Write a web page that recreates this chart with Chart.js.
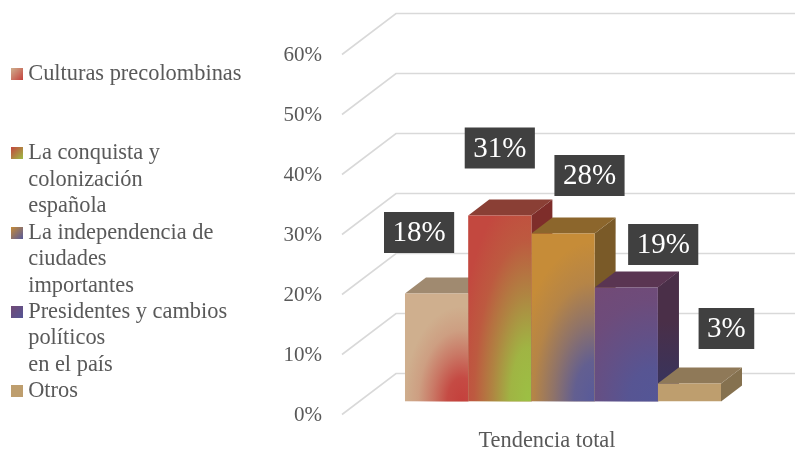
<!DOCTYPE html>
<html>
<head>
<meta charset="utf-8">
<title>Tendencia total</title>
<script src="https://cdn.jsdelivr.net/npm/chart.js@4"></script>
<style>
  html, body { margin: 0; background: #fff; }
  canvas { display: block; }
</style>
</head>
<body>
<canvas id="chart" width="795" height="452"></canvas>
<script>
const categories = ['Tendencia total'];
const seriesNames = [
  ['Culturas precolombinas', '', ''],
  ['La conquista y', 'colonización', 'española'],
  ['La independencia de', 'ciudades', 'importantes'],
  ['Presidentes y cambios', 'políticos', 'en el país'],
  ['Otros']
];
const seriesValues = [18, 31, 28, 19, 3];
const yTicks = [0, 10, 20, 30, 40, 50, 60];

// colores de cada barra
const frontColors = ['#CFAF8E', '#C3483F', '#C68C38', '#724A76', '#BE9E6E'];
const topColors   = ['#A08A70', '#8A3F35', '#8C662C', '#5A3552', '#8F7958'];
const sideColors  = ['#8E7A60', '#7E2D2A', '#7A5A28', '#4A2F48', '#85714F'];
const glowColors  = ['196,64,60', '156,192,68', '88,90,154', '84,86,150', null];
// elipse del degradado: centro relativo a la barra y radios
const glowShapes  = [[0.9, 1, 58, 95], [0.95, 1, 72, 215], [1, 1, 82, 160], [0.95, 1, 105, 135], null];
// desplazamiento de cada etiqueta respecto del centro de la barra
const labelOffsets = [[-17.5, -61], [0, -67.5], [26.5, -58], [37, -43], [37, -55]];

const BAR_DX = 21, BAR_DY = 16;   // profundidad de las barras
const WALL_DX = 54, WALL_DY = 41; // profundidad de la pared
const FLOOR_DROP = 13;            // el piso arranca mas abajo que la base de las barras

// muestra de leyenda: el cuadro va a la derecha del canvas para quedar dentro del recorte de la leyenda
function swatch(i) {
  const c = document.createElement('canvas');
  c.width = 18;
  c.height = 12;
  const g = c.getContext('2d');
  const grad = g.createLinearGradient(6, 0, 18, 12);
  grad.addColorStop(0, frontColors[i]);
  grad.addColorStop(1, glowColors[i] ? `rgb(${glowColors[i]})` : frontColors[i]);
  g.fillStyle = grad;
  g.fillRect(6, 0, 12, 12);
  return c;
}

function poly(ctx, pts, color) {
  ctx.fillStyle = color;
  ctx.beginPath();
  pts.forEach(([x, y], i) => i ? ctx.lineTo(x, y) : ctx.moveTo(x, y));
  ctx.closePath();
  ctx.fill();
}

const bars3d = {
  id: 'bars3d',
  beforeDatasetsDraw(chart) {
    const { ctx, scales: { y }, chartArea } = chart;
    ctx.save();
    // paredes
    ctx.strokeStyle = '#D9D9D9';
    ctx.lineWidth = 1.6;
    yTicks.forEach(v => {
      const py = y.getPixelForValue(v) + FLOOR_DROP;
      ctx.beginPath();
      ctx.moveTo(chartArea.left, py);
      ctx.lineTo(chartArea.left + WALL_DX, py - WALL_DY);
      ctx.lineTo(chart.width, py - WALL_DY);
      ctx.stroke();
    });
    // caras superior y lateral, de izquierda a derecha
    seriesValues.forEach((_, i) => {
      const b = chart.getDatasetMeta(i).data[0];
      const l = b.x - b.width / 2, r = b.x + b.width / 2;
      poly(ctx, [[r, b.y], [r + BAR_DX, b.y - BAR_DY], [r + BAR_DX, b.base - BAR_DY], [r, b.base]], sideColors[i]);
      if (i === 3) {
        const g = ctx.createLinearGradient(0, b.y, 0, b.base);
        g.addColorStop(0.3, sideColors[i]);
        g.addColorStop(1, '#343562');
        poly(ctx, [[r, b.y], [r + BAR_DX, b.y - BAR_DY], [r + BAR_DX, b.base - BAR_DY], [r, b.base]], g);
      }
      poly(ctx, [[l, b.y], [l + BAR_DX, b.y - BAR_DY], [r + BAR_DX, b.y - BAR_DY], [r, b.y]], topColors[i]);
    });
    ctx.restore();
  },
  afterDatasetsDraw(chart) {
    const { ctx } = chart;
    seriesValues.forEach((v, i) => {
      const b = chart.getDatasetMeta(i).data[0];
      const l = b.x - b.width / 2;
      // degradado de la cara frontal
      if (glowShapes[i]) {
        const [fx, fy, rx, ry] = glowShapes[i];
        ctx.save();
        ctx.beginPath();
        ctx.rect(l, b.y, b.width, b.base - b.y);
        ctx.clip();
        ctx.translate(l + b.width * fx, b.y + (b.base - b.y) * fy);
        ctx.scale(rx, ry);
        const g = ctx.createRadialGradient(0, 0, 0, 0, 0, 1);
        g.addColorStop(0, `rgba(${glowColors[i]},1)`);
        g.addColorStop(0.25, `rgba(${glowColors[i]},0.9)`);
        g.addColorStop(0.5, `rgba(${glowColors[i]},0.5)`);
        g.addColorStop(0.75, `rgba(${glowColors[i]},0.15)`);
        g.addColorStop(1, `rgba(${glowColors[i]},0)`);
        ctx.fillStyle = g;
        ctx.fillRect(-3, -3, 6, 6);
        ctx.restore();
      }
    });
    // etiquetas
    ctx.save();
    ctx.font = '29px "Liberation Serif"';
    ctx.textAlign = 'center';
    ctx.textBaseline = 'middle';
    seriesValues.forEach((v, i) => {
      const b = chart.getDatasetMeta(i).data[0];
      const txt = v + '%';
      const w = ctx.measureText(txt).width + 17;
      const cx = b.x + labelOffsets[i][0], cy = b.y + labelOffsets[i][1];
      ctx.fillStyle = '#404040';
      ctx.fillRect(cx - w / 2, cy - 20.5, w, 41);
      ctx.fillStyle = '#fff';
      ctx.fillText(txt, cx, cy + 1);
    });
    ctx.restore();
  }
};

new Chart(document.getElementById('chart'), {
  type: 'bar',
  data: {
    labels: categories,
    datasets: seriesValues.map((v, i) => ({
      label: seriesNames[i].join(' ').trim(),
      data: [v],
      backgroundColor: frontColors[i]
    }))
  },
  plugins: [bars3d],
  options: {
    responsive: false,
    animation: false,
    layout: { padding: { left: 11, right: 11, top: 41.5, bottom: 0 } },
    datasets: { bar: { barPercentage: 1, categoryPercentage: 0.715 } },
    scales: {
      x: {
        grid: { display: false },
        border: { display: false },
        afterFit: s => { s.height = 50.5; },
        ticks: {
          color: '#595959', padding: 18, labelOffset: -16,
          maxRotation: 0,
          font: { family: '"Liberation Serif"', size: 22.4 }
        }
      },
      y: {
        min: 0, max: 60,
        grid: { display: false },
        border: { display: false },
        afterFit: s => { s.width = 342 - 11 - s.chart.legend.width; },
        ticks: {
          color: '#595959', padding: 12, stepSize: 10, labelOffset: 14,
          callback: v => v + '%',
          font: { family: '"Liberation Serif"', size: 21 }
        }
      }
    },
    plugins: {
      tooltip: { enabled: false },
      legend: {
        position: 'left',
        align: 'start',
        maxWidth: 240,
        // titulo vacio: solo baja la leyenda hasta su sitio
        title: { display: true, text: '', padding: 0, font: { size: 21.5, lineHeight: 1 } },
        labels: {
          color: '#595959',
          padding: 0,
          boxWidth: 6,
          usePointStyle: true,
          pointStyleWidth: 6,
          font: { family: '"Liberation Serif"', size: 22.4, lineHeight: 1.18 },
          generateLabels: () => seriesNames.map((text, i) => ({
            text, pointStyle: swatch(i), fontColor: '#595959', datasetIndex: i, lineWidth: 0
          }))
        }
      }
    }
  }
});
</script>
</body>
</html>
